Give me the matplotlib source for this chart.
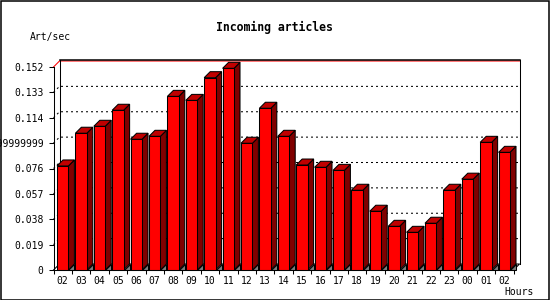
import matplotlib
matplotlib.use("Agg")
import matplotlib.pyplot as plt
from matplotlib.patches import Polygon, Rectangle

plt.rcParams['font.family'] = ['DejaVu Sans Mono']

hours = ["02", "03", "04", "05", "06", "07", "08", "09", "10", "11", "12", "13", "14",
         "15", "16", "17", "18", "19", "20", "21", "22", "23", "00", "01", "02"]
rates = [0.0779, 0.1024, 0.1076, 0.1196, 0.0979, 0.1001, 0.1300, 0.1270, 0.1440, 0.1510,
         0.0949, 0.1211, 0.1001, 0.0786, 0.0769, 0.0746, 0.0597, 0.0440, 0.0327, 0.0282,
         0.0350, 0.0597, 0.0680, 0.0956, 0.0881]
yticks = [0, 0.019, 0.038, 0.057, 0.076, 0.095, 0.114, 0.133, 0.152]
ylabels = ["0", "0.019", "0.038", "0.057", "0.076", "0.09499999999999999",
           "0.114", "0.133", "0.152"]

W, H = 550, 300
fig = plt.figure(figsize=(W / 100, H / 100), dpi=100)
# plot area in pixels
L, R, B, T = 53.5, 513.5, 270, 67
ax = fig.add_axes([L / W, (H - B) / H, (R - L) / W, (B - T) / H])
n = len(hours)
ymax = yticks[-1]
ax.set_xlim(0, n)
ax.set_ylim(0, ymax)
ax.set_facecolor("none")

pxx = n / (R - L)          # data per pixel, x
pxy = ymax / (B - T)       # data per pixel, y
dx, dy = 6 * pxx, 6 * pxy  # 3d depth

lw = 0.75
# back wall and grid
for v in yticks[1:-1]:
    ax.plot([0, dx, n + dx], [v, v + dy, v + dy], color="black", lw=lw,
            linestyle=(0, (1.9, 2.9)), clip_on=False, zorder=1)
ax.plot([0, dx, n + dx], [ymax, ymax + dy, ymax + dy], color="red", lw=lw,
        clip_on=False, zorder=1)
ax.plot([dx, n + dx], [ymax + dy + pxy, ymax + dy + pxy], color="black", lw=1.1,
        clip_on=False, zorder=1)
ax.plot([dx, dx], [dy, ymax + dy + pxy], color="black", lw=lw, clip_on=False, zorder=1)
ax.plot([n + dx, n + dx], [dy, ymax + dy + pxy], color="black", lw=lw, clip_on=False, zorder=1)
ax.plot([0, dx, n + dx, n], [0, dy, dy, 0], color="black", lw=lw, clip_on=False, zorder=1)

# bars
off, bw = 0.19, 0.62
for i, h in enumerate(rates):
    x0 = i + off
    x1 = x0 + bw
    ax.add_patch(Polygon([(x1, 0), (x1 + dx, 0), (x1 + dx, dy)], closed=True,
                         facecolor="#808080", edgecolor="black", lw=lw, zorder=2,
                         clip_on=False))
    ax.add_patch(Polygon([(x1, 0), (x1 + dx, dy), (x1 + dx, h + dy), (x1, h)], closed=True,
                         facecolor="#800000", edgecolor="black", lw=lw, zorder=3,
                         clip_on=False))
    ax.add_patch(Polygon([(x0, h), (x1, h), (x1 + dx, h + dy), (x0 + dx, h + dy)], closed=True,
                         facecolor="#c00000", edgecolor="black", lw=lw, zorder=3,
                         clip_on=False))
    ax.add_patch(Rectangle((x0, 0), bw, h, facecolor="#ff0000", edgecolor="black",
                           lw=lw, zorder=4, clip_on=False))

for s in ["top", "right"]:
    ax.spines[s].set_visible(False)
for s in ["left", "bottom"]:
    ax.spines[s].set_linewidth(lw)
    ax.spines[s].set_zorder(5)

ax.set_yticks(yticks)
ax.set_yticklabels(ylabels)
ax.set_xticks(range(n + 1))
ax.set_xticklabels([])
ax.set_xticks([i + 0.5 for i in range(n)], minor=True)
ax.set_xticklabels(hours, minor=True)
ax.tick_params(axis="y", length=3.6, width=lw, pad=3.5, labelsize=7)
ax.tick_params(axis="x", which="major", length=3, width=lw)
ax.tick_params(axis="x", which="minor", length=0, pad=4, labelsize=7)

def px(x, y):
    return x / W, 1 - y / H

fig.text(*px(274, 27), "Incoming articles", ha="center", va="center",
         fontsize=8.3, fontweight="bold")
fig.text(*px(30, 37), "Art/sec", ha="left", va="center", fontsize=7)
fig.text(*px(504, 292), "Hours", ha="left", va="center", fontsize=7)

fig.patches.append(Rectangle((0.5 / W, 0.5 / H), 1 - 1.5 / W, 1 - 1.5 / H,
                             transform=fig.transFigure, fill=False,
                             edgecolor="black", lw=1.1))

fig.savefig("out.png", dpi=100)
